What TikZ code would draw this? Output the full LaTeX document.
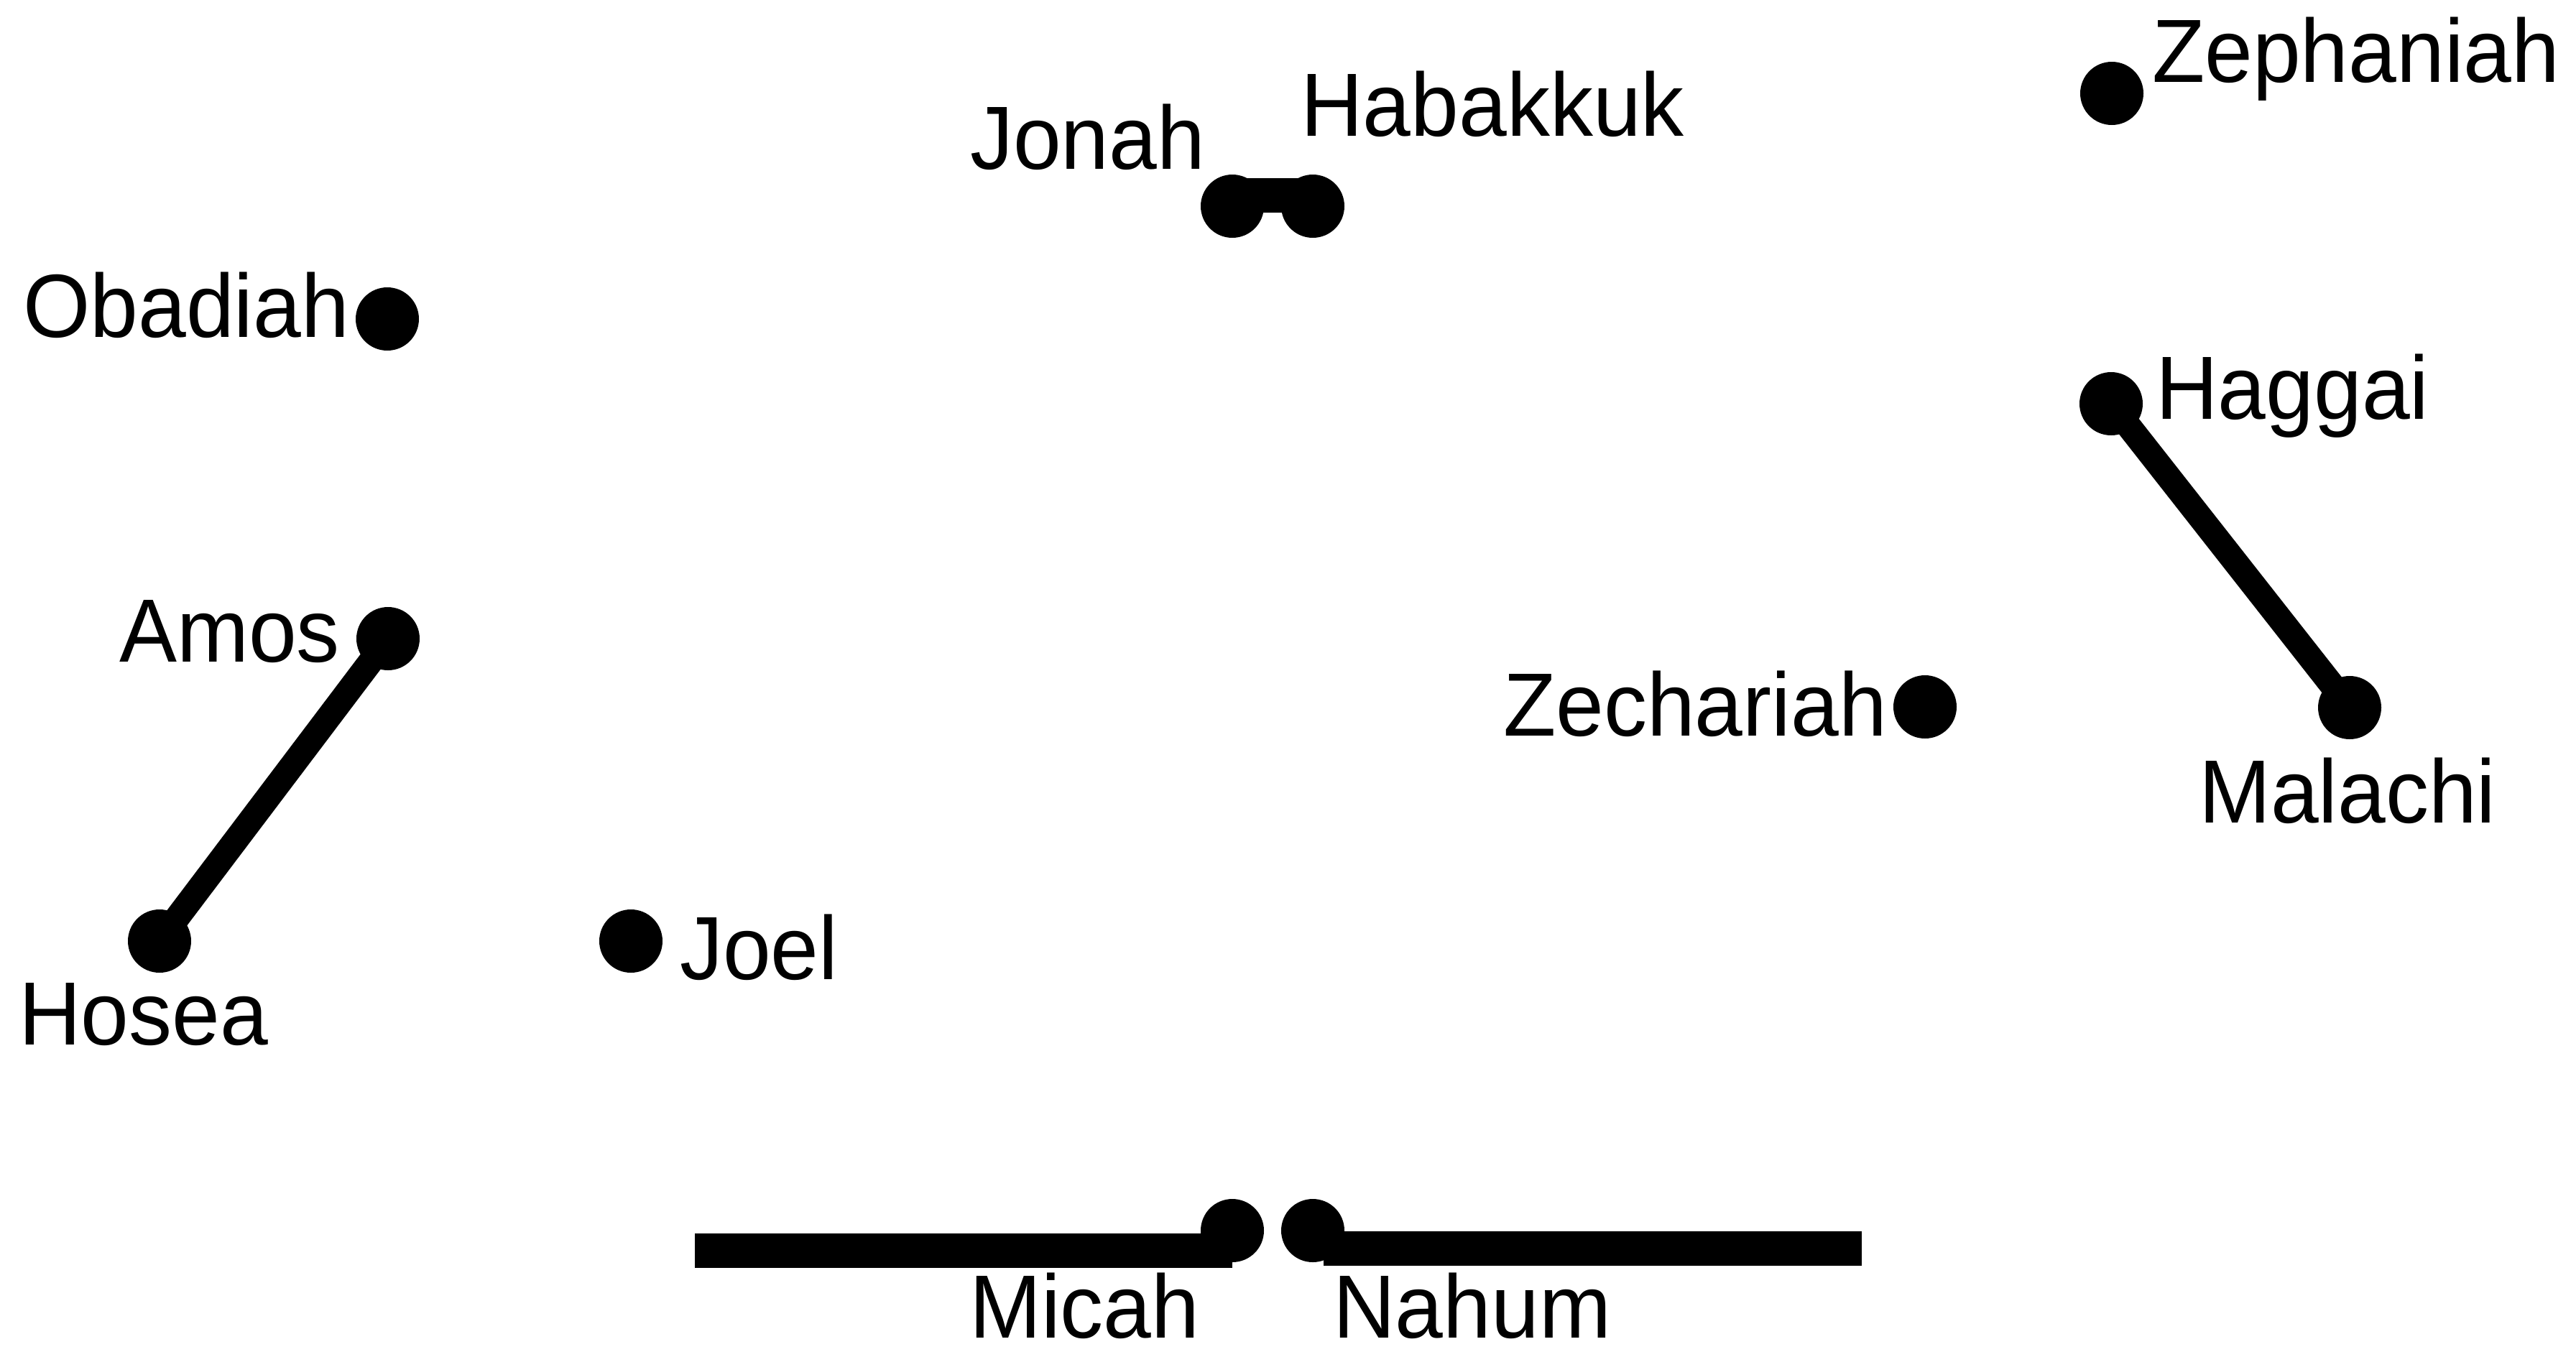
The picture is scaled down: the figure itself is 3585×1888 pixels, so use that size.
\documentclass[tikz,border=0pt]{standalone}
\usepackage{fontspec}
\setmainfont{Liberation Sans}[FakeStretch=0.96]
\usetikzlibrary{calc}
\begin{document}
\begin{tikzpicture}[x=1pt,y=-1pt,
  dot/.style={circle,fill=black,inner sep=0pt,minimum size=88pt},
  lbl/.style={anchor=base west,inner sep=0pt,font=\fontsize{125}{130}\selectfont},
  conn/.style={line width=35pt,line cap=butt},
  bar/.style={line width=48pt,line cap=butt}]
\useasboundingbox[fill=white] (0,0) rectangle (3585,1888);
% dots
\node[dot] (zephaniah) at (2939,130) {};
\node[dot] (jonah) at (1715,287) {};
\node[dot] (habakkuk) at (1827,287) {};
\node[dot] (obadiah) at (539,444) {};
\node[dot] (haggai) at (2938,562) {};
\node[dot] (amos) at (540,889) {};
\node[dot] (zechariah) at (2679,984) {};
\node[dot] (malachi) at (3270,985) {};
\node[dot] (hosea) at (222,1310) {};
\node[dot] (joel) at (878,1310) {};
\node[dot] (micah) at (1715,1713) {};
\node[dot] (nahum) at (1827,1713) {};
% free ends of the bottom bars
\coordinate (micahend) at (967,1741);
\coordinate (nahumend) at (2591,1738);
% connectors
\draw[conn] (amos.center) -- (hosea.center);
\draw[conn] (haggai.center) -- (malachi.center);
\draw[bar] ($(jonah.center)+(0,-15)$) -- ($(habakkuk.center)+(0,-15)$);
\draw[bar] ($(micah.center)+(0,28)$) -- (micahend);
\draw[bar] ($(nahum.center)+(15,25)$) -- (nahumend);
% labels
\node[lbl] (t-zephaniah) at (2995,114) {Zephaniah};
\node[lbl] (t-jonah) at (1350,235) {Jonah};
\node[lbl] (t-habakkuk) at (1810,189) {Habakkuk};
\node[lbl] (t-obadiah) at (32,469) {Obadiah};
\node[lbl] (t-haggai) at (3000,583) {Haggai};
\node[lbl] (t-amos) at (166,921) {Amos};
\node[lbl] (t-zechariah) at (2092,1024) {Zechariah};
\node[lbl] (t-malachi) at (3060,1145) {Malachi};
\node[lbl] (t-hosea) at (26,1454) {Hosea};
\node[lbl] (t-joel) at (946,1363) {Joel};
\node[lbl] (t-micah) at (1349,1862) {Micah};
\node[lbl] (t-nahum) at (1855,1862) {Nahum};
\end{tikzpicture}
\end{document}
